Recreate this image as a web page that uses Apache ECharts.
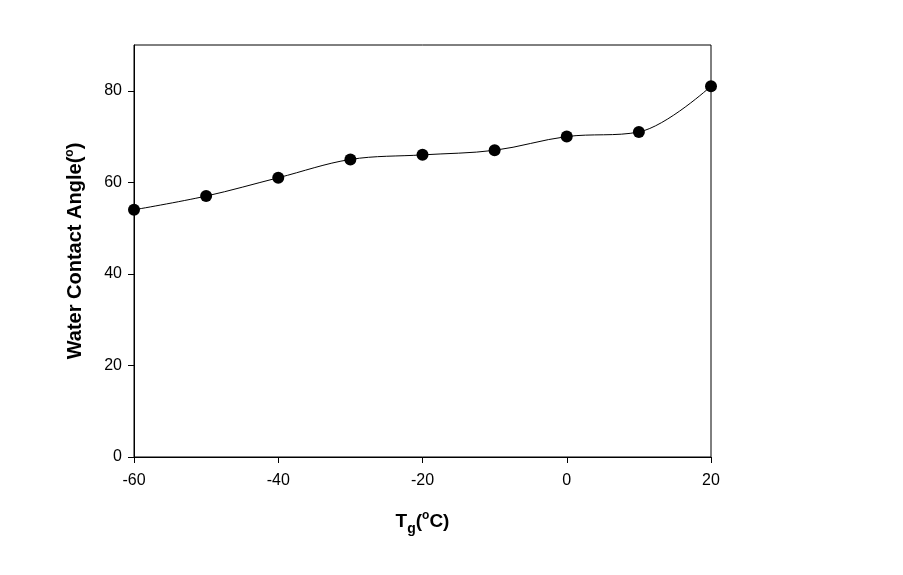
<!DOCTYPE html>
<html>
<head>
<meta charset="utf-8">
<script src="https://cdn.jsdelivr.net/npm/echarts@6/dist/echarts.min.js"></script>
<style>html,body{margin:0;padding:0;background:#fff;}#c{width:903px;height:575px;}</style>
</head>
<body>
<div id="c"></div>
<script>
var tgValues = [-60, -50, -40, -30, -20, -10, 0, 10, 20];
var contactAngle = [54, 57, 61, 65, 66, 67, 70, 71, 81];
var xTicks = [-60, -40, -20, 0, 20];
var yTicks = [0, 20, 40, 60, 80];

var chart = echarts.init(document.getElementById('c'));
var font = 'Liberation Sans, Arial, sans-serif';
chart.setOption({
  backgroundColor: '#fff',
  animation: false,
  grid: { left: 134, right: 192, top: 45, bottom: 118, show: true, borderColor: '#000', borderWidth: 1, backgroundColor: 'transparent' },
  xAxis: {
    type: 'value', min: -60, max: 20, interval: 20,
    axisLine: { show: true, onZero: false, lineStyle: { color: '#000', width: 1 } },
    axisTick: { show: true, inside: false, length: 6, lineStyle: { color: '#000' }, customValues: xTicks },
    splitLine: { show: false },
    axisLabel: { color: '#000', fontSize: 16, fontFamily: font, margin: 16, customValues: xTicks },
    name: '{a|T}{sub|g}{a|(}{sup|o}{a|C)}',
    nameLocation: 'middle', nameGap: 51,
    nameTextStyle: {
      rich: {
        a: { fontSize: 19, fontWeight: 'bold', fontFamily: font, color: '#000', lineHeight: 28, verticalAlign: 'middle' },
        sub: { fontSize: 14, fontWeight: 'bold', fontFamily: font, color: '#000', lineHeight: 28, verticalAlign: 'bottom' },
        sup: { fontSize: 12, fontWeight: 'bold', fontFamily: font, color: '#000', lineHeight: 28, verticalAlign: 'top', padding: [2, 0, 0, 0] }
      }
    }
  },
  yAxis: {
    type: 'value', min: 0, max: 90, interval: 20,
    axisLine: { show: true, onZero: false, lineStyle: { color: '#000', width: 1 } },
    axisTick: { show: true, inside: false, length: 6, lineStyle: { color: '#000' }, customValues: yTicks },
    splitLine: { show: false },
    axisLabel: { color: '#000', fontSize: 16, fontFamily: font, margin: 12, customValues: yTicks },
    name: '{a|Water Contact Angle(}{sup|o}{a|)}',
    nameLocation: 'middle', nameGap: 46,
    nameTextStyle: {
      rich: {
        a: { fontSize: 20, fontWeight: 'bold', fontFamily: font, color: '#000', lineHeight: 26, verticalAlign: 'middle' },
        sup: { fontSize: 12, fontWeight: 'bold', fontFamily: font, color: '#000', lineHeight: 26, verticalAlign: 'top', padding: [2, 0, 0, 0] }
      }
    }
  },
  series: [{
    type: 'line',
    data: tgValues.map(function (x, i) { return [x, contactAngle[i]]; }),
    smooth: 0.35,
    symbol: 'circle', symbolSize: 12,
    itemStyle: { color: '#000' },
    lineStyle: { color: '#000', width: 1 },
    clip: false
  }]
});
</script>
</body>
</html>
